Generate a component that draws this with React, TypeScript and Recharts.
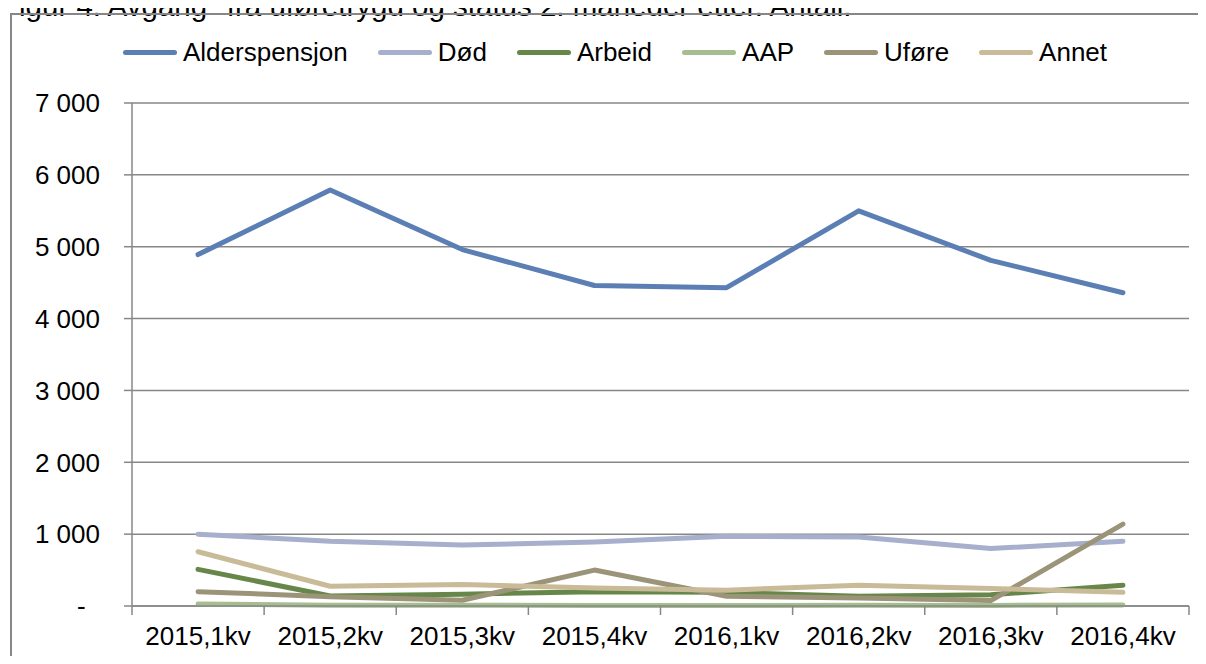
import { LineChart, Line, XAxis, YAxis, CartesianGrid } from "recharts";

const categories = [
  "2015,1kv",
  "2015,2kv",
  "2015,3kv",
  "2015,4kv",
  "2016,1kv",
  "2016,2kv",
  "2016,3kv",
  "2016,4kv",
];

const alderspensjon = [4890, 5790, 4960, 4460, 4430, 5500, 4810, 4360];
const dod = [1000, 900, 850, 890, 970, 960, 800, 900];
const arbeid = [510, 140, 165, 200, 190, 135, 155, 290];
const aap = [28, 10, 10, 8, 8, 10, 8, 14];
const ufore = [200, 130, 80, 500, 135, 110, 75, 1140];
const annet = [755, 275, 300, 250, 220, 290, 245, 190];

const yTicks = [0, 1000, 2000, 3000, 4000, 5000, 6000, 7000];

const series = [
  { key: "Alderspensjon", values: alderspensjon, color: "#5b7fb4" },
  { key: "Død", values: dod, color: "#a6afcb" },
  { key: "Arbeid", values: arbeid, color: "#67874a" },
  { key: "AAP", values: aap, color: "#a6bd8f" },
  { key: "Uføre", values: ufore, color: "#9c9479" },
  { key: "Annet", values: annet, color: "#c9ba98" },
];

const data = categories.map((cat, i) => {
  const row: Record<string, string | number> = { cat };
  series.forEach((s) => {
    row[s.key] = s.values[i];
  });
  return row;
});

const FONT = "'Liberation Sans', Arial, sans-serif";
const GRID = "#878787";

const fmtY = (v: number) =>
  v === 0 ? "-\u00a0\u00a0" : v.toLocaleString("en-US").replace(/,/g, " ");

// category tick: label at the band centre, tick marks at the band edges
function CatTick(props: any) {
  const { x, y, payload, index, visibleTicksCount } = props;
  const half = payload?.offset ?? 0;
  const last = index === visibleTicksCount - 1;
  return (
    <g>
      <line x1={x - half} x2={x - half} y1={y} y2={y + 9} stroke={GRID} strokeWidth={1.5} />
      {last && (
        <line x1={x + half} x2={x + half} y1={y} y2={y + 9} stroke={GRID} strokeWidth={1.5} />
      )}
      <text
        x={x}
        y={y + 39}
        textAnchor="middle"
        fontSize={26}
        fontFamily={FONT}
        fill="#000"
      >
        {payload.value}
      </text>
    </g>
  );
}

export default function App() {
  return (
    <div
      style={{
        position: "relative",
        margin: -8,
        width: 1206,
        height: 664,
        overflow: "hidden",
        background: "#fff",
        fontFamily: FONT,
      }}
    >
      <div
        style={{
          position: "absolute",
          left: 1,
          top: -9,
          fontSize: 29.5,
          lineHeight: "29.5px",
          whiteSpace: "nowrap",
          color: "#000",
        }}
      >
        Figur 4. Avgang* fra uføretrygd og status 2. måneder etter. Antall.
      </div>
      <div
        style={{
          position: "absolute",
          left: 10,
          top: 13,
          width: 1192,
          height: 700,
          border: `2px solid ${GRID}`,
          boxSizing: "border-box",
        }}
      />
      <div
        style={{
          position: "absolute",
          left: 123,
          top: 37,
          display: "flex",
          alignItems: "center",
          fontSize: 26,
          lineHeight: "30px",
          whiteSpace: "nowrap",
        }}
      >
        {series.map((s) => (
          <div
            key={s.key}
            style={{ display: "flex", alignItems: "center", marginRight: 30 }}
          >
            <div
              style={{
                width: 54,
                height: 5,
                borderRadius: 3,
                background: s.color,
                marginRight: 6,
              }}
            />
            <span>{s.key}</span>
          </div>
        ))}
      </div>
      <div style={{ position: "absolute", left: 0, top: 0 }}>
        <LineChart
          width={1206}
          height={664}
          data={data}
          margin={{ top: 103, right: 17, bottom: 0, left: 0 }}
        >
          <CartesianGrid horizontal vertical={false} stroke={GRID} strokeWidth={1.5} />
          <XAxis
            dataKey="cat"
            scale="band"
            height={58}
            stroke={GRID}
            strokeWidth={1.5}
            tickLine={false}
            tickSize={0}
            tickMargin={0}
            interval={0}
            tick={<CatTick />}
          />
          <YAxis
            width={132}
            domain={[0, 7000]}
            ticks={yTicks}
            tickFormatter={fmtY}
            tickSize={8}
            tickMargin={24}
            stroke={GRID}
            strokeWidth={1.5}
            tick={{ fontSize: 26, fill: "#000", fontFamily: FONT }}
          />
          {series.map((s) => (
            <Line
              key={s.key}
              dataKey={s.key}
              stroke={s.color}
              strokeWidth={5}
              strokeLinecap="round"
              strokeLinejoin="round"
              dot={false}
              activeDot={false}
              isAnimationActive={false}
            />
          ))}
        </LineChart>
      </div>
    </div>
  );
}
